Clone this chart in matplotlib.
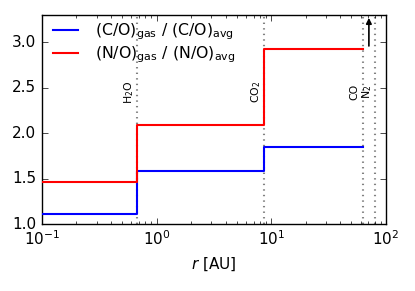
import matplotlib
matplotlib.use("Agg")
import matplotlib.pyplot as plt
import matplotlib.transforms as mtransforms

plt.style.use('classic')
plt.rcParams['mathtext.fontset'] = 'dejavusans'

# Data
edges = [0.1, 0.67, 8.7, 62.7]          # AU: start, H2O, CO2, CO snow lines
co_ratio = [1.11, 1.585, 1.85]           # (C/O)gas / (C/O)avg
no_ratio = [1.46, 2.09, 2.925]           # (N/O)gas / (N/O)avg
snow_names = ["H$_2$O", "CO$_2$", "CO", "N$_2$"]
snow_r = [0.67, 8.7, 62.7, 80.0]
arrow_r = 71.0
arrow_y = [2.93, 3.3]

fig = plt.figure(figsize=(4.15, 2.91), dpi=100, facecolor='white')
ax = fig.add_axes([0.101, 0.230, 0.829, 0.718])

for r in snow_r:
    ax.axvline(r, color='gray', ls=':', lw=1.5, zorder=1)

ax.step(edges, co_ratio + [co_ratio[-1]], where='post', color='#0000ff', lw=1.5,
        label=r'(C/O)$_{\rm gas}$ / (C/O)$_{\rm avg}$', zorder=3)
ax.step(edges, no_ratio + [no_ratio[-1]], where='post', color='#ff0000', lw=1.5,
        label=r'(N/O)$_{\rm gas}$ / (N/O)$_{\rm avg}$', zorder=3)

label_shift = [-0.8, -0.8, -2.2, -0.5]   # points, horizontal nudge of labels
for name, r, dx in zip(snow_names, snow_r, label_shift):
    off = mtransforms.offset_copy(ax.transData, fig=fig, x=dx, y=0, units='points')
    ax.text(r, 2.45, name, rotation=90, ha='right', va='center', fontsize=7.8,
            transform=off)

ax.annotate('', xy=(arrow_r, arrow_y[1]), xytext=(arrow_r, arrow_y[0]),
            arrowprops=dict(arrowstyle='-|>', color='black', lw=1.2, mutation_scale=8))

ax.set_xscale('log')
ax.set_xlim(0.1, 100)
ax.set_ylim(1.0, 3.3)
ax.set_yticks([1.0, 1.5, 2.0, 2.5, 3.0])
ax.set_xlabel(r'$r$ [AU]', fontsize=11)
ax.tick_params(labelsize=11)
ax.legend(loc='upper left', frameon=False, fontsize=11.3, handlelength=2.2,
          borderaxespad=0.0, labelspacing=0.15, handletextpad=0.8)

fig.savefig('out.png', dpi=100, facecolor='white')
